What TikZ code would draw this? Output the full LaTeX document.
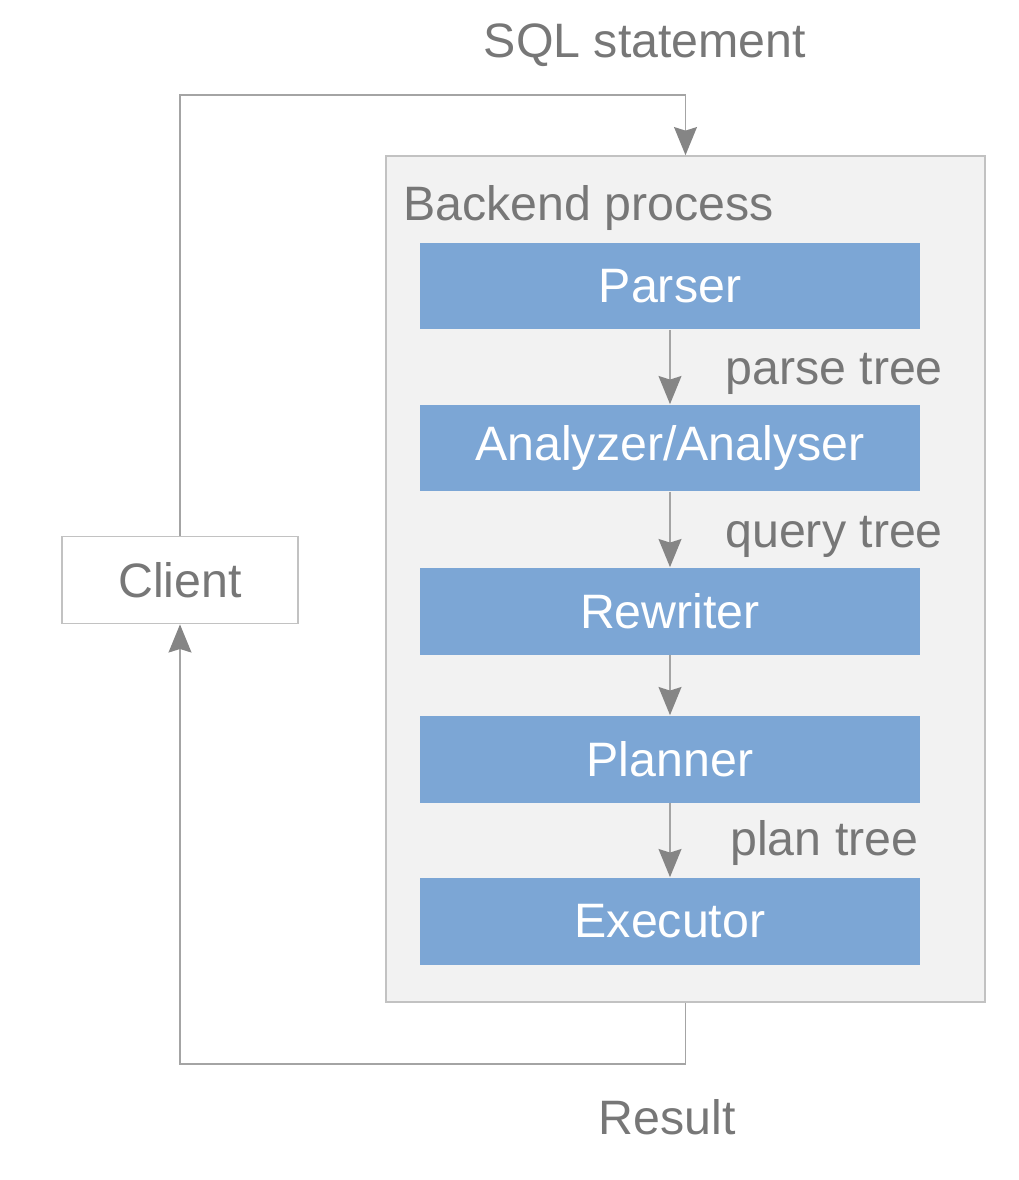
\documentclass[tikz,border=0pt]{standalone}
\usepackage{fontspec}
\setmainfont{Liberation Sans}
\usetikzlibrary{arrows.meta, positioning}

\definecolor{stageblue}{HTML}{7CA6D5}
\definecolor{backendgray}{HTML}{F2F2F2}
\definecolor{framegray}{HTML}{C2C2C2}
\definecolor{linegray}{HTML}{A4A4A4}
\definecolor{tipgray}{HTML}{858585}
\definecolor{textgray}{HTML}{777777}

\tikzset{
    bigtext/.style={font=\fontsize{27.5}{32}\selectfont},
    stage/.style={rectangle, fill=stageblue, text=white, bigtext,
        minimum width=10cm, minimum height=1.74cm},
    flow/.style={draw=linegray, line width=1.1pt,
        -{Stealth[width=13pt, length=16pt, inset=2pt, color=tipgray, fill=tipgray]}},
    caption/.style={text=textgray, bigtext, inner sep=0pt}
}

\begin{document}
\begin{tikzpicture}[x=0.02cm, y=-0.02cm]
    \useasboundingbox (0,0) rectangle (1018,1180);

    % Backend process frame
    \node[rectangle, draw=framegray, fill=backendgray, line width=1pt,
        minimum width=11.98cm, minimum height=16.92cm] (backend) at (685.5,579) {};
    \node[caption, anchor=west] (backendlbl) at (403,208) {Backend process};

    % Stages
    \node[stage] (parser) at (670,286) {Parser};
    \node[stage] (analyzer) at (670,448) {Analyzer/Analyser};
    \node[stage] (rewriter) at (670,611) {Rewriter};
    \node[stage] (planner) at (670,759) {Planner};
    \node[stage] (executor) at (670,921) {Executor};

    \path[flow]
    (parser) edge (analyzer)
    (analyzer) edge (rewriter)
    (rewriter) edge (planner)
    (planner) edge (executor);

    \node[caption, anchor=west] (parsetree) at (725,374) {parse tree};
    \node[caption, anchor=west] (querytree) at (725,537) {query tree};
    \node[caption, anchor=west] (plantree) at (730,843) {plan tree};

    % Client and the loop round it
    \node[rectangle, draw=framegray, fill=white, line width=1pt, text=textgray, bigtext,
        minimum width=4.72cm, minimum height=1.74cm] (client) at (180,580) {Client};

    \coordinate (sqlcorner) at (685.5,95);
    \coordinate (rescorner) at (685.5,1064);
    \draw[flow] (client.north) |- (sqlcorner) -- (backend.north);
    \draw[flow] (backend.south) -- (rescorner) -| (client.south);

    \node[caption] (sqllbl) at (645,45) {SQL statement};
    \node[caption] (resultlbl) at (667,1117) {Result};
\end{tikzpicture}
\end{document}
